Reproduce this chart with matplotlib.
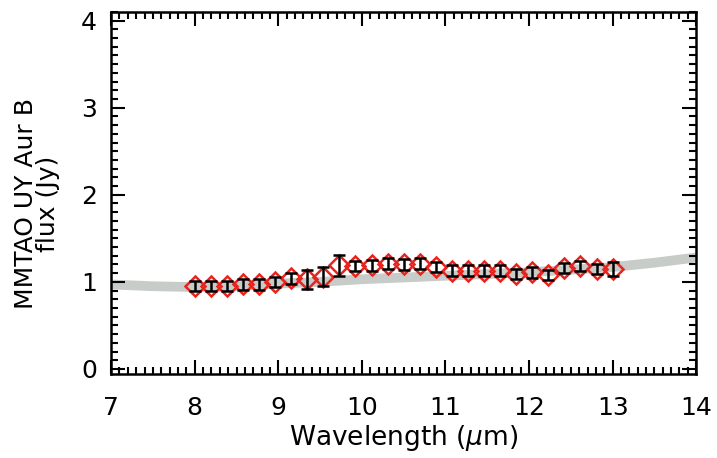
import matplotlib
matplotlib.use("Agg")
import matplotlib.pyplot as plt
from matplotlib.ticker import MultipleLocator
import numpy as np

# measured spectrum (Jy)
wave = np.linspace(8.0, 13.0, 27)
flux = [0.95, 0.95, 0.95, 0.97, 0.97, 1.00, 1.04, 1.03, 1.06, 1.19,
        1.18, 1.19, 1.21, 1.20, 1.21, 1.17, 1.13, 1.13, 1.13, 1.13,
        1.09, 1.11, 1.08, 1.16, 1.18, 1.15, 1.15]
ferr = [0.06, 0.06, 0.06, 0.06, 0.06, 0.06, 0.06, 0.11, 0.11, 0.12,
        0.06, 0.06, 0.06, 0.06, 0.06, 0.06, 0.06, 0.06, 0.06, 0.06,
        0.06, 0.06, 0.06, 0.06, 0.06, 0.06, 0.08]

# model continuum (grey band)
model_wave = [7.0, 7.5, 8.0, 8.5, 9.0, 9.5, 10.0, 10.5, 11.0, 11.5,
              12.0, 12.5, 13.0, 13.5, 14.0]
model_flux = [0.97, 0.95, 0.94, 0.95, 0.98, 1.00, 1.03, 1.05, 1.07, 1.09,
              1.11, 1.14, 1.17, 1.22, 1.28]

fig = plt.figure(figsize=(7.17, 4.58), dpi=100)
ax = fig.add_axes([0.155, 0.183, 0.816, 0.791])

ax.plot(model_wave, model_flux, color="#c8ccc9", lw=7, solid_capstyle="butt", zorder=1)
ax.errorbar(wave, flux, yerr=ferr, fmt="none", ecolor="black", elinewidth=1.8,
            capsize=4.5, capthick=1.8, zorder=3)
ax.plot(wave, flux, ls="none", marker="D", ms=10.5, mfc="none", mec="#e8241f",
        mew=1.8, zorder=2)

ax.set_xlim(7, 14)
ax.set_ylim(-0.06, 4.1)
ax.xaxis.set_major_locator(MultipleLocator(1))
ax.xaxis.set_minor_locator(MultipleLocator(0.1))
ax.yaxis.set_major_locator(MultipleLocator(1))
ax.yaxis.set_minor_locator(MultipleLocator(0.1))
ax.tick_params(which="both", direction="in", top=True, right=True, width=1.5)
ax.tick_params(which="major", length=10, labelsize=18)
ax.tick_params(axis="x", which="major", pad=16)
ax.tick_params(axis="y", which="major", pad=10)
ax.tick_params(which="minor", length=5)
for sp in ax.spines.values():
    sp.set_linewidth(1.8)

ax.set_xlabel(r"Wavelength ($\mu$m)", fontsize=19, labelpad=2)
ax.set_ylabel("MMTAO UY Aur B\nflux (Jy)", fontsize=18, linespacing=0.9)
ax.yaxis.set_label_coords(-0.087, 0.47)

fig.savefig("out.png", dpi=100)
